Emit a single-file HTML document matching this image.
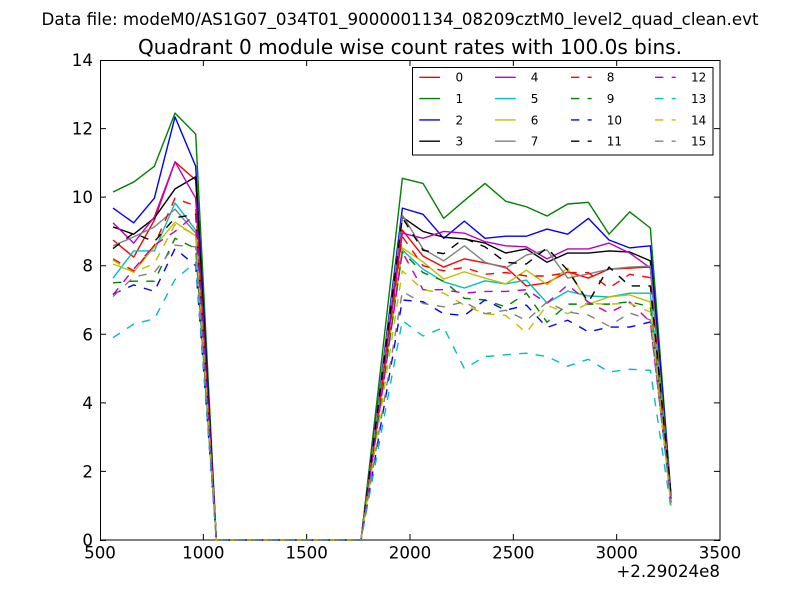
<!DOCTYPE html>
<html><head><meta charset="utf-8"><style>
html,body{margin:0;padding:0;background:#fff;}
svg{display:block;}
text{font-family:"DejaVu Sans","Liberation Sans",sans-serif;fill:#000;}
</style></head><body>
<svg width="800" height="600" viewBox="0 0 800 600" xmlns="http://www.w3.org/2000/svg">
<rect x="0" y="0" width="800" height="600" fill="#fff"/>
<text x="400" y="25" font-size="16.67" text-anchor="middle" textLength="717" lengthAdjust="spacingAndGlyphs">Data file: modeM0/AS1G07_034T01_9000001134_08209cztM0_level2_quad_clean.evt</text>
<text x="410" y="54" font-size="20" text-anchor="middle" textLength="544" lengthAdjust="spacingAndGlyphs">Quadrant 0 module wise count rates with 100.0s bins.</text>

<rect x="100.5" y="60.5" width="619.5" height="479.5" fill="none" stroke="#000" stroke-width="1"/>

<g stroke="#000" stroke-width="1" fill="none">
<path d="M100.5,540V534 M203.33,540V534 M306.67,540V534 M410,540V534 M513.33,540V534 M616.67,540V534 M720,540V534"/>
<path d="M100.5,60V66 M203.33,60V66 M306.67,60V66 M410,60V66 M513.33,60V66 M616.67,60V66 M720,60V66"/>
<path d="M100,540.5H106 M100,471.43H106 M100,402.86H106 M100,334.29H106 M100,265.71H106 M100,197.14H106 M100,128.57H106 M100,60.5H106"/>
<path d="M720,540.5H714 M720,471.43H714 M720,402.86H714 M720,334.29H714 M720,265.71H714 M720,197.14H714 M720,128.57H714 M720,60.5H714"/>
</g>

<g font-size="16.67" text-anchor="end">
<text x="93" y="546">0</text>
<text x="93" y="477.4">2</text>
<text x="93" y="408.9">4</text>
<text x="93" y="340.3">6</text>
<text x="93" y="271.7">8</text>
<text x="93" y="203.1">10</text>
<text x="93" y="134.6">12</text>
<text x="93" y="66">14</text>
</g>
<g font-size="16.67" text-anchor="middle">
<text x="100" y="558.5">500</text>
<text x="203.33" y="558.5">1000</text>
<text x="306.67" y="558.5">1500</text>
<text x="410" y="558.5">2000</text>
<text x="513.33" y="558.5">2500</text>
<text x="616.67" y="558.5">3000</text>
<text x="720" y="558.5">3500</text>
</g>
<text x="720" y="577" font-size="16.67" text-anchor="end">+2.29024e8</text>

<g transform="matrix(0.2066667,0,0,-34.285714,-3.333333,540)" fill="none" stroke-width="1.4" stroke-linejoin="round">
<polyline vector-effect="non-scaling-stroke" stroke="#ff0000" points="563,8.75 663,8.25 763,9.33 863,11.03 963,10.5 1063,0 1763,0 1863,4.52 1963,9.04 2063,8.28 2163,7.96 2263,8.2 2363,8.08 2463,7.96 2563,7.41 2663,7.5 2763,7.82 2863,7.64 2963,7.9 3063,7.93 3163,7.96 3263,1.2"/>
<polyline vector-effect="non-scaling-stroke" stroke="#008000" points="563,10.15 663,10.44 763,10.9 863,12.45 963,11.84 1063,0 1763,0 1863,5.27 1963,10.55 2063,10.4 2163,9.38 2263,9.9 2363,10.4 2463,9.88 2563,9.72 2663,9.45 2763,9.8 2863,9.85 2963,8.92 3063,9.57 3163,9.1 3263,1.3"/>
<polyline vector-effect="non-scaling-stroke" stroke="#0000ff" points="563,9.68 663,9.25 763,9.97 863,12.34 963,10.9 1063,0 1763,0 1863,4.84 1963,9.68 2063,9.5 2163,8.8 2263,9.3 2363,8.8 2463,8.86 2563,8.86 2663,9.07 2763,8.92 2863,9.38 2963,8.75 3063,8.52 3163,8.58 3263,1.3"/>
<polyline vector-effect="non-scaling-stroke" stroke="#000000" points="563,9.13 663,8.92 763,9.39 863,10.24 963,10.59 1063,0 1763,0 1863,4.71 1963,9.42 2063,9.0 2163,8.83 2263,8.78 2363,8.66 2463,8.37 2563,8.49 2663,8.1 2763,8.37 2863,8.37 2963,8.43 3063,8.4 3163,8.14 3263,1.2"/>
<polyline vector-effect="non-scaling-stroke" stroke="#bf00bf" points="563,9.25 663,8.66 763,9.42 863,11.03 963,9.97 1063,0 1763,0 1863,4.47 1963,8.95 2063,8.8 2163,9.0 2263,8.95 2363,8.7 2463,8.58 2563,8.55 2663,8.2 2763,8.49 2863,8.49 2963,8.66 3063,8.37 3163,7.93 3263,1.1"/>
<polyline vector-effect="non-scaling-stroke" stroke="#00bfbf" points="563,7.64 663,8.43 763,8.43 863,9.83 963,9.04 1063,0 1763,0 1863,4.23 1963,8.46 2063,7.9 2163,7.53 2263,7.35 2363,7.56 2463,7.47 2563,7.58 2663,6.91 2763,7.26 2863,7.12 2963,7.09 3063,7.2 3163,7.2 3263,1.1"/>
<polyline vector-effect="non-scaling-stroke" stroke="#bfbf00" points="563,8.05 663,7.82 763,8.55 863,9.27 963,8.87 1063,0 1763,0 1863,4.26 1963,8.52 2063,8.11 2163,7.61 2263,7.82 2363,7.64 2463,7.47 2563,7.87 2663,7.45 2763,7.93 2863,6.88 2963,7.09 3063,7.15 3163,6.94 3263,1.0"/>
<polyline vector-effect="non-scaling-stroke" stroke="#808080" points="563,8.58 663,8.84 763,9.13 863,9.65 963,8.95 1063,0 1763,0 1863,4.74 1963,9.48 2063,8.49 2163,8.14 2263,8.58 2363,8.1 2463,7.93 2563,8.31 2663,8.46 2763,7.64 2863,7.76 2963,7.9 3063,7.96 3163,7.99 3263,1.2"/>
<g stroke-dasharray="8.33 8.33">
<polyline vector-effect="non-scaling-stroke" stroke="#ff0000" points="563,8.2 663,7.85 763,8.6 863,9.97 963,9.74 1063,0 1763,0 1863,4.42 1963,8.85 2063,8.0 2163,7.85 2263,7.95 2363,7.75 2463,7.8 2563,7.7 2663,7.7 2763,7.8 2863,7.8 2963,7.35 3063,7.75 3163,7.65 3263,1.2"/>
<polyline vector-effect="non-scaling-stroke" stroke="#008000" points="563,7.5 663,7.55 763,7.55 863,8.8 963,8.5 1063,0 1763,0 1863,4.2 1963,8.4 2063,7.8 2163,7.55 2263,7.05 2363,7.0 2463,6.8 2563,7.2 2663,6.35 2763,6.88 2863,6.88 2963,6.88 3063,6.95 3163,6.8 3263,1.2"/>
<polyline vector-effect="non-scaling-stroke" stroke="#0000ff" points="563,7.17 663,7.44 763,7.25 863,8.5 963,8.0 1063,0 1763,0 1863,3.5 1963,7.0 2063,6.95 2163,6.6 2263,6.55 2363,7.0 2463,6.7 2563,6.85 2663,6.2 2763,6.41 2863,6.07 2963,6.21 3063,6.21 3163,6.36 3263,1.1"/>
<polyline vector-effect="non-scaling-stroke" stroke="#000000" points="563,8.5 663,8.95 763,8.7 863,9.4 963,9.5 1063,0 1763,0 1863,4.7 1963,9.4 2063,8.45 2163,8.35 2263,8.8 2363,8.55 2463,8.1 2563,8.05 2663,8.52 2763,7.87 2863,6.94 2963,7.96 3063,7.41 3163,7.41 3263,1.3"/>
<polyline vector-effect="non-scaling-stroke" stroke="#bf00bf" points="563,7.15 663,7.9 763,8.6 863,9.0 963,9.5 1063,0 1763,0 1863,4.2 1963,8.4 2063,7.3 2163,7.3 2263,7.2 2363,7.25 2463,7.25 2563,7.3 2663,6.91 2763,7.44 2863,6.94 2963,6.62 3063,6.94 3163,6.36 3263,1.1"/>
<polyline vector-effect="non-scaling-stroke" stroke="#00bfbf" points="563,5.9 663,6.3 763,6.45 863,7.6 963,8.1 1063,0 1763,0 1863,3.2 1963,6.4 2063,5.95 2163,6.2 2263,5.0 2363,5.35 2463,5.4 2563,5.45 2663,5.35 2763,5.07 2863,5.27 2963,4.9 3063,4.98 3163,4.95 3263,0.9"/>
<polyline vector-effect="non-scaling-stroke" stroke="#bfbf00" points="563,8.16 663,7.8 763,8.07 863,9.2 963,8.9 1063,0 1763,0 1863,3.92 1963,7.85 2063,7.3 2163,7.2 2263,6.85 2363,6.6 2463,6.55 2563,6.05 2663,6.85 2763,6.6 2863,6.9 2963,6.88 3063,6.9 3163,6.65 3263,1.0"/>
<polyline vector-effect="non-scaling-stroke" stroke="#808080" points="563,7.1 663,7.67 763,7.8 863,8.6 963,8.55 1063,0 1763,0 1863,3.62 1963,7.25 2063,6.9 2163,6.8 2263,6.95 2363,6.6 2463,6.7 2563,6.4 2663,6.94 2763,6.65 2863,6.56 2963,6.24 3063,6.62 3163,6.42 3263,1.1"/>
</g>
</g>

<!-- legend -->
<rect x="412.5" y="67.5" width="300.5" height="87.5" fill="#fff" stroke="#000" stroke-width="1"/>
<g stroke-width="1.4" fill="none">
<path d="M419.3,77.3H440" stroke="#ff0000"/>
<path d="M419.3,98.6H440" stroke="#008000"/>
<path d="M419.3,119.9H440" stroke="#0000ff"/>
<path d="M419.3,141.2H440" stroke="#000000"/>
<path d="M495,77.3H515.7" stroke="#bf00bf"/>
<path d="M495,98.6H515.7" stroke="#00bfbf"/>
<path d="M495,119.9H515.7" stroke="#bfbf00"/>
<path d="M495,141.2H515.7" stroke="#808080"/>
<g stroke-dasharray="8.33 8.33">
<path d="M571,77.3H591.7" stroke="#ff0000"/>
<path d="M571,98.6H591.7" stroke="#008000"/>
<path d="M571,119.9H591.7" stroke="#0000ff"/>
<path d="M571,141.2H591.7" stroke="#000000"/>
<path d="M655,77.3H675.7" stroke="#bf00bf"/>
<path d="M655,98.6H675.7" stroke="#00bfbf"/>
<path d="M655,119.9H675.7" stroke="#bfbf00"/>
<path d="M655,141.2H675.7" stroke="#808080"/>
</g>
</g>
<g font-size="12">
<text x="455.5" y="81.7">0</text>
<text x="455.5" y="103">1</text>
<text x="455.5" y="124.3">2</text>
<text x="455.5" y="145.6">3</text>
<text x="530.7" y="81.7">4</text>
<text x="530.7" y="103">5</text>
<text x="530.7" y="124.3">6</text>
<text x="530.7" y="145.6">7</text>
<text x="606.7" y="81.7">8</text>
<text x="606.7" y="103">9</text>
<text x="606.7" y="124.3">10</text>
<text x="606.7" y="145.6">11</text>
<text x="691" y="81.7">12</text>
<text x="691" y="103">13</text>
<text x="691" y="124.3">14</text>
<text x="691" y="145.6">15</text>
</g>
</svg>
</body></html>
